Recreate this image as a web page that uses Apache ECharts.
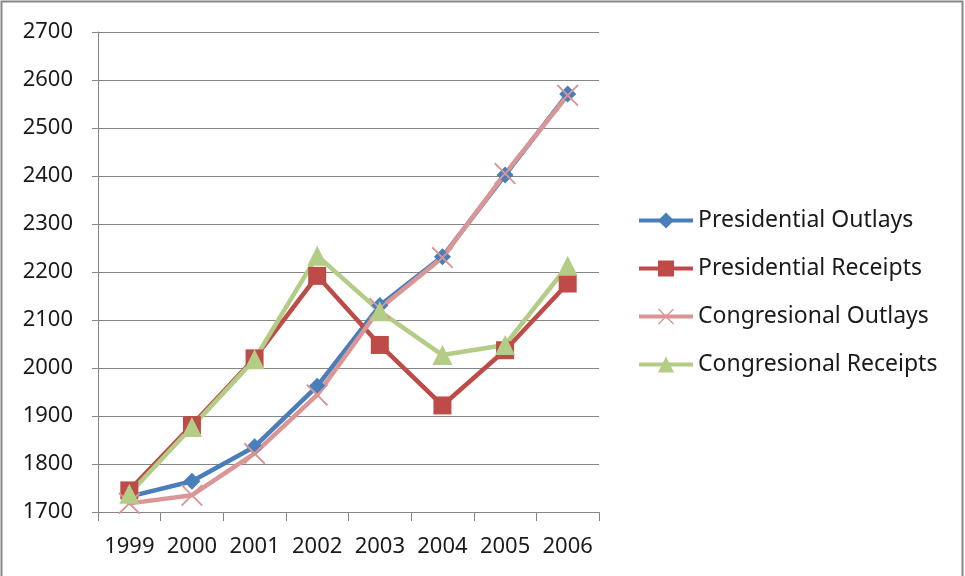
<!DOCTYPE html>
<html>
<head>
<meta charset="utf-8">
<script src="https://cdn.jsdelivr.net/npm/echarts@6/dist/echarts.min.js"></script>
<style>
  html, body { margin: 0; padding: 0; background: #fff; }
  #chart { width: 965px; height: 576px; }
</style>
</head>
<body>
<div id="chart"></div>
<script>
// Budget projections, billions of dollars
const years = ['1999', '2000', '2001', '2002', '2003', '2004', '2005', '2006'];
const presidentialOutlays = [1732, 1764, 1836, 1962, 2130, 2232, 2402, 2571];
const presidentialReceipts = [1745, 1881, 2020, 2192, 2048, 1922, 2037, 2176];
const congressionalOutlays = [1718, 1735, 1822, 1944, 2124, 2230, 2405, 2568];
const congressionalReceipts = [1738, 1877, 2018, 2234, 2118, 2027, 2048, 2213];
const yTicks = { min: 1700, max: 2700, step: 100 };

const FONT = 'Noto Sans';
// thin filled cross used as the "x" marker
const CROSS = 'path://M0,0.06 L0.06,0 L0.5,0.44 L0.94,0 L1,0.06 L0.56,0.5 L1,0.94 L0.94,1 L0.5,0.56 L0.06,1 L0,0.94 L0.44,0.5 Z';

const chart = echarts.init(document.getElementById('chart'), null, { renderer: 'canvas' });

function lineSeries(name, data, color, symbol, size, width) {
  return {
    name, type: 'line', data, symbol, symbolSize: size,
    lineStyle: { color, width },
    itemStyle: { color },
    emphasis: { disabled: true },
    animation: false
  };
}

chart.setOption({
  backgroundColor: '#fff',
  animation: false,
  graphic: [{
    type: 'rect',
    shape: { x: 1.5, y: 1.5, width: 961, height: 600 },
    style: { fill: 'none', stroke: '#888', lineWidth: 2 },
    silent: true
  }],
  grid: { left: 98, right: 366, top: 32, bottom: 64 },
  legend: {
    orient: 'vertical',
    left: 632, top: 204,
    itemWidth: 54, itemHeight: 20, itemGap: 25, padding: 5,
    lineStyle: { width: 4 },
    textStyle: { fontFamily: FONT, fontSize: 23, color: '#1a1a1a' },
    data: ['Presidential Outlays', 'Presidential Receipts', 'Congresional Outlays', 'Congresional Receipts']
  },
  xAxis: {
    type: 'category', data: years, boundaryGap: true,
    axisLine: { lineStyle: { color: '#868686', width: 1 } },
    axisTick: { show: true, length: 9, lineStyle: { color: '#868686' } },
    axisLabel: { fontFamily: FONT, fontSize: 22, color: '#1a1a1a', margin: 24, interval: 0 },
    splitLine: { show: false }
  },
  yAxis: {
    type: 'value', min: yTicks.min, max: yTicks.max, interval: yTicks.step,
    axisLine: { show: true, lineStyle: { color: '#868686', width: 1 } },
    axisTick: { show: true, length: 6, lineStyle: { color: '#868686' } },
    axisLabel: { fontFamily: FONT, fontSize: 22, color: '#1a1a1a', margin: 25, formatter: v => String(v) },
    splitLine: { show: true, lineStyle: { color: '#868686', width: 1 } }
  },
  series: [
    lineSeries('Presidential Outlays', presidentialOutlays, '#4A7EBB', 'diamond', 17, 4.5),
    lineSeries('Presidential Receipts', presidentialReceipts, '#BE4B48', 'rect', 18, 4.5),
    lineSeries('Congresional Outlays', congressionalOutlays, '#D99694', CROSS, 22, 4.5),
    lineSeries('Congresional Receipts', congressionalReceipts, '#B3CC86', 'triangle', 20, 4.5)
  ]
});
</script>
</body>
</html>
